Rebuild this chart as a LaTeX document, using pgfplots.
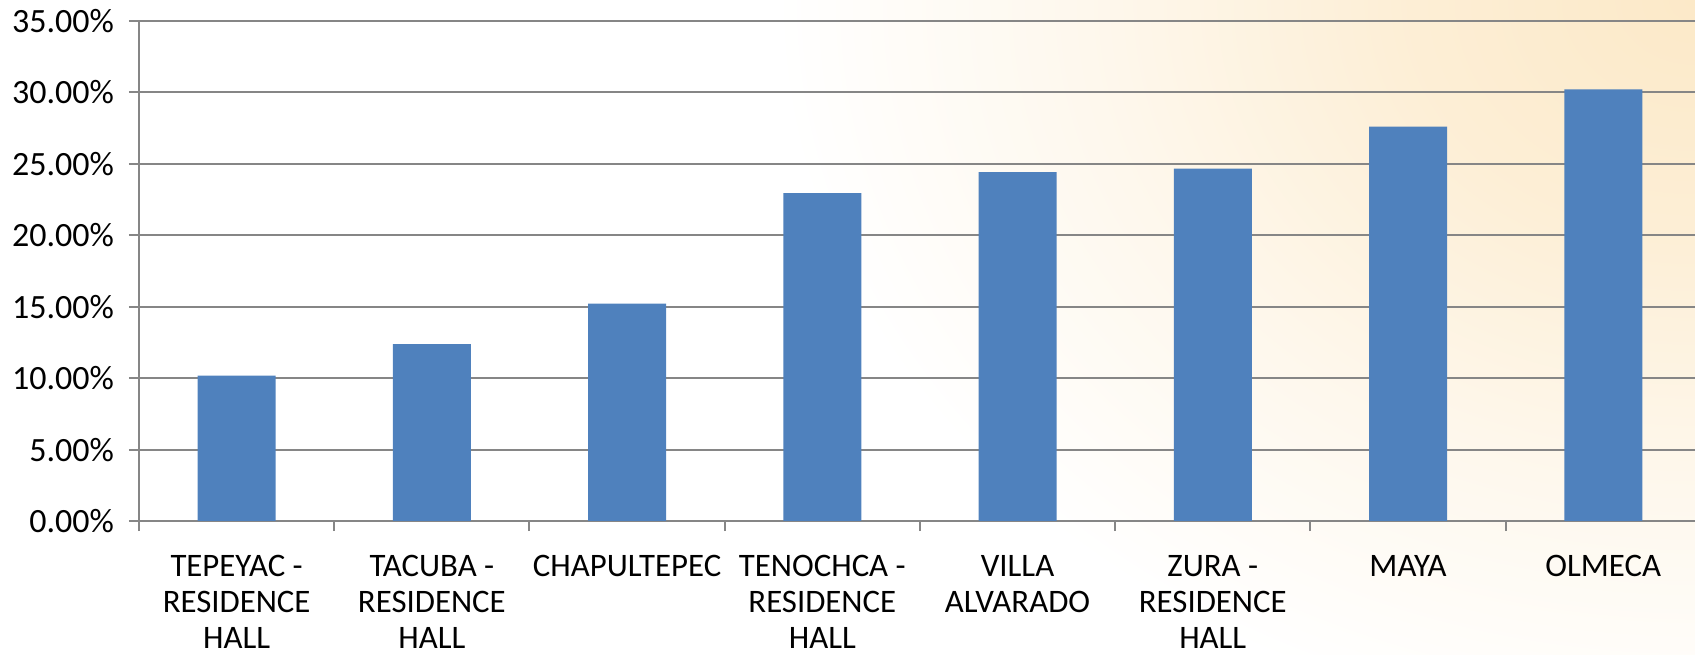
\documentclass[border=0pt]{standalone}
\usepackage{pgfplots}
\pgfplotsset{compat=1.18}
\usepackage{fontspec}
\setmainfont{Carlito}
\definecolor{barblue}{RGB}{79,129,189}
\definecolor{gridgray}{RGB}{134,134,134}
\definecolor{bgorange}{RGB}{252,233,200}
\pgfdeclareradialshading{bgglow}{\pgfpoint{0bp}{0bp}}{%
  color(0bp)=(bgorange); color(8bp)=(bgorange!75!white); color(16bp)=(bgorange!35!white);
  color(25bp)=(white); color(50bp)=(white)}
\begin{document}
\begin{tikzpicture}
\useasboundingbox (-69.5bp,-67bp) rectangle (778bp,260.5bp);
\begin{scope}
\clip (-69.5bp,-67bp) rectangle (778bp,260.5bp);
\shade[shading=bgglow] (778bp,260.5bp) ellipse [x radius=460bp, y radius=370bp];
\end{scope}
\begin{axis}[
  at={(0,0)}, anchor=south west,
  scale only axis, width=778bp, height=250bp,
  xmin=-0.5, xmax=7.47, ymin=0, ymax=35,
  axis x line*=bottom, axis y line*=left,
  axis line style={draw=gridgray, line width=1bp, -},
  ytick={0,5,...,35},
  ymajorgrids, grid style={draw=gridgray, line width=1bp},
  /pgf/number format/assume math mode=true,
  yticklabel={\pgfmathprintnumber[fixed,fixed zerofill,precision=2]{\tick}\%},
  xtick={0,...,7},
  xticklabels={{TEPEYAC -\\RESIDENCE\\HALL},{TACUBA -\\RESIDENCE\\HALL},{CHAPULTEPEC},{TENOCHCA -\\RESIDENCE\\HALL},{VILLA\\ALVARADO},{ZURA -\\RESIDENCE\\HALL},{MAYA},{OLMECA}},
  xticklabel style={align=center, anchor=north, yshift=-8.5bp, font=\fontsize{16.4bp}{18bp}\selectfont},
  yticklabel style={anchor=east, xshift=-4bp, font=\fontsize{17bp}{18bp}\selectfont},
  tick label style={text=black},
  minor xtick={-0.5,0.5,...,7.5},
  tick align=outside, major tick length=5bp, minor tick length=5bp,
  tick style={draw=gridgray, line width=1bp},
  major x tick style={draw=none},
  ybar, bar width=39bp,
]
\addplot[fill=barblue, draw=none] coordinates {
  (0,10.17) (1,12.39) (2,15.21) (3,22.96) (4,24.43) (5,24.66) (6,27.61) (7,30.22)
};
\end{axis}
\end{tikzpicture}
\end{document}
